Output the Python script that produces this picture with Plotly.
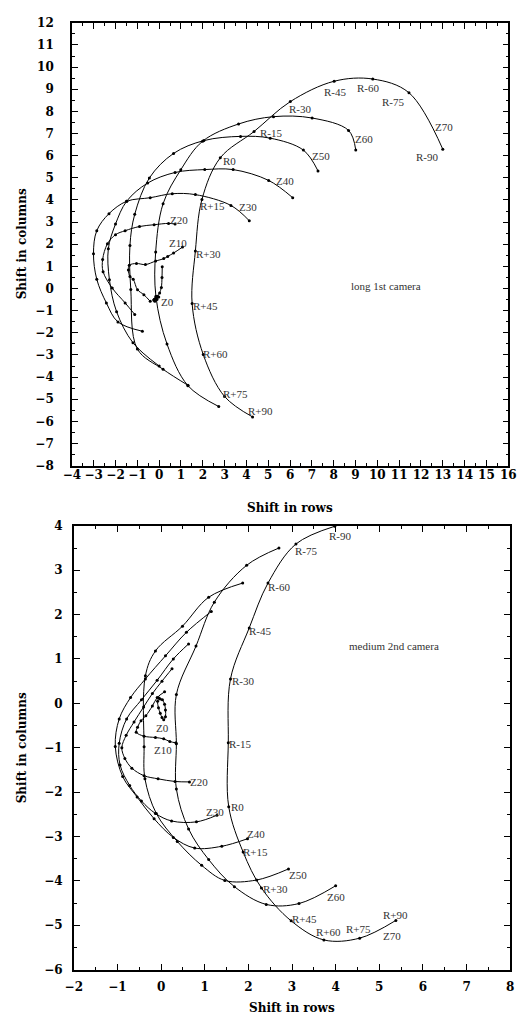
import plotly.graph_objects as go

# ---------------- long 1st camera (top panel) ----------------
top_z70_x = [13.0, 11.45, 9.79, 8.02, 6.01, 4.35, 2.80, 1.96, 1.66, 1.51, 2.02, 3.0, 4.28]
top_z70_y = [6.29, 8.84, 9.46, 9.36, 8.44, 7.09, 5.90, 4.02, 1.69, -0.68, -2.98, -4.88, -5.80]
top_z60_x = [9.01, 8.68, 7.01, 5.24, 3.64, 1.99, 0.99, 0.18, -0.16, -0.15, 0.36, 1.32, 2.73]
top_z60_y = [6.25, 7.14, 7.70, 7.76, 7.43, 6.65, 5.36, 3.83, 1.65, -0.35, -2.51, -4.39, -5.33]
top_z50_x = [7.28, 6.61, 5.09, 3.73, 2.05, 0.66, -0.45, -1.12, -1.34, -1.30, -1.0, 0.18, 1.32]
top_z50_y = [5.31, 6.25, 6.79, 6.87, 6.68, 6.10, 4.99, 3.35, 1.94, -0.05, -2.73, -3.65, -4.37]
top_z40_x = [6.12, 5.02, 3.39, 2.09, 0.73, -0.53, -1.49, -2.0, -2.33, -2.28, -1.95, -1.2, 0.0]
top_z40_y = [4.10, 4.88, 5.37, 5.37, 5.24, 4.76, 3.94, 2.91, 1.80, 0.40, -1.05, -2.45, -3.50]
top_z30_x = [4.13, 3.29, 1.66, 0.60, -0.41, -1.49, -2.30, -2.86, -3.01, -2.86, -2.42, -1.89, -0.77]
top_z30_y = [3.06, 3.75, 4.24, 4.28, 4.10, 3.94, 3.38, 2.61, 1.57, 0.42, -0.65, -1.51, -1.93]
top_z20_x = [0.73, 0.43, -0.23, -0.90, -1.56, -2.0, -2.37, -2.59, -2.57, -2.15, -1.56, -1.12]
top_z20_y = [2.91, 2.94, 2.88, 2.80, 2.61, 2.43, 2.02, 1.31, 0.76, 0.02, -0.65, -1.17]
top_z10_x = [1.07, 0.66, 0.39, 0.21, -0.16, -0.63, -1.04, -1.37, -1.41, -1.34, -1.19, -0.99, -0.70, -0.41]
top_z10_y = [1.87, 1.60, 1.45, 1.35, 1.24, 1.08, 1.13, 1.05, 0.83, 0.54, 0.42, -0.06, -0.28, -0.58]
top_z0_x = [0.14, 0.13, 0.10, 0.02, -0.08, -0.18, -0.25, -0.20, -0.10, -0.02, -0.12, -0.22]
top_z0_y = [0.98, 0.50, 0.05, -0.20, -0.35, -0.45, -0.52, -0.58, -0.50, -0.38, -0.40, -0.48]

top_label_text = ["R-90", "R-75", "R-60", "R-45", "R-30", "R-15", "R0", "R+15", "R+30", "R+45",
                  "R+60", "R+75", "R+90", "Z70", "Z60", "Z50", "Z40", "Z30", "Z20", "Z10", "Z0"]
top_label_x = [12.31, 10.74, 9.6, 8.09, 6.5, 5.17, 3.24, 2.43, 2.27, 2.13,
               2.58, 3.51, 4.65, 13.07, 9.41, 7.41, 5.76, 4.08, 0.91, 0.88, 0.36]
top_label_y = [5.93, 8.43, 9.06, 8.87, 8.1, 7.02, 5.77, 3.72, 1.54, -0.77,
               -2.95, -4.78, -5.55, 7.31, 6.74, 5.98, 4.84, 3.68, 3.1, 2.06, -0.6]

# ---------------- medium 2nd camera (bottom panel) ----------------
bot_z70_x = [3.98, 3.09, 2.45, 2.02, 1.59, 1.54, 1.55, 1.88, 2.30, 2.98, 3.73, 4.55, 5.38]
bot_z70_y = [3.99, 3.59, 2.71, 1.70, 0.55, -0.89, -2.33, -3.35, -4.16, -4.90, -5.33, -5.29, -4.89]
bot_z60_x = [2.70, 1.96, 1.22, 0.80, 0.35, 0.35, 0.35, 0.63, 1.09, 1.68, 2.41, 3.16, 4.0]
bot_z60_y = [3.50, 3.11, 2.28, 1.29, 0.20, -0.91, -1.93, -2.83, -3.52, -4.13, -4.53, -4.51, -4.11]
bot_z50_x = [1.87, 1.09, 0.49, -0.13, -0.36, -0.39, -0.37, -0.11, 0.37, 0.93, 1.46, 2.19, 2.92]
bot_z50_y = [2.71, 2.39, 1.74, 1.18, 0.62, -0.98, -1.70, -2.48, -3.11, -3.65, -3.99, -3.98, -3.73]
bot_z40_x = [1.15, 0.58, 0.10, -0.36, -0.70, -0.96, -1.05, -0.88, -0.55, -0.16, 0.28, 0.77, 1.39, 1.98]
bot_z40_y = [2.07, 1.60, 1.07, 0.55, 0.13, -0.35, -0.97, -1.65, -2.11, -2.60, -3.02, -3.26, -3.22, -3.05]
bot_z30_x = [0.63, 0.28, -0.09, -0.45, -0.79, -0.96, -0.94, -0.72, -0.45, -0.13, 0.24, 0.81, 1.28]
bot_z30_y = [1.34, 1.00, 0.52, 0.08, -0.35, -0.90, -1.39, -1.85, -2.20, -2.48, -2.65, -2.67, -2.52]
bot_z20_x = [0.25, 0.02, -0.20, -0.40, -0.62, -0.80, -0.90, -0.83, -0.67, -0.39, -0.07, 0.32, 0.65]
bot_z20_y = [0.78, 0.50, 0.22, -0.08, -0.42, -0.72, -1.00, -1.24, -1.46, -1.63, -1.70, -1.76, -1.77]
bot_z10_x = [0.08, -0.09, -0.20, -0.35, -0.46, -0.54, -0.57, -0.39, -0.13, 0.06, 0.20, 0.34]
bot_z10_y = [0.26, 0.13, -0.06, -0.28, -0.39, -0.54, -0.65, -0.74, -0.77, -0.80, -0.86, -0.89]
bot_z0_x = [-0.05, -0.08, -0.06, -0.02, 0.02, 0.06, 0.10, 0.10, 0.08, 0.03, -0.02]
bot_z0_y = [0.12, 0.05, -0.10, -0.22, -0.32, -0.37, -0.30, -0.15, -0.02, 0.08, 0.10]

bot_label_text = ["R-90", "R-75", "R-60", "R-45", "R-30", "R-15", "R0", "R+15", "R+30", "R+45",
                  "R+60", "R+75", "R+90", "Z70", "Z60", "Z50", "Z40", "Z30", "Z20", "Z10", "Z0"]
bot_label_x = [4.11, 3.33, 2.72, 2.28, 1.89, 1.83, 1.76, 2.17, 2.63, 3.29,
               3.83, 4.52, 5.37, 5.28, 4.0, 3.14, 2.17, 1.23, 0.86, 0.04, 0.03]
bot_label_y = [3.78, 3.44, 2.62, 1.62, 0.51, -0.92, -2.33, -3.34, -4.18, -4.85,
               -5.16, -5.09, -4.76, -5.25, -4.36, -3.87, -2.95, -2.45, -1.77, -1.05, -0.55]

top_curves = [(top_z70_x, top_z70_y), (top_z60_x, top_z60_y), (top_z50_x, top_z50_y),
              (top_z40_x, top_z40_y), (top_z30_x, top_z30_y), (top_z20_x, top_z20_y),
              (top_z10_x, top_z10_y), (top_z0_x, top_z0_y)]
bot_curves = [(bot_z70_x, bot_z70_y), (bot_z60_x, bot_z60_y), (bot_z50_x, bot_z50_y),
              (bot_z40_x, bot_z40_y), (bot_z30_x, bot_z30_y), (bot_z20_x, bot_z20_y),
              (bot_z10_x, bot_z10_y), (bot_z0_x, bot_z0_y)]

fig = go.Figure()

def add_curves(curves, xa, ya):
    for cx, cy in curves:
        fig.add_trace(go.Scatter(
            x=cx, y=cy, xaxis=xa, yaxis=ya, mode="lines+markers",
            line=dict(color="black", width=1, shape="spline", smoothing=1.0),
            marker=dict(color="black", size=3), showlegend=False, hoverinfo="skip"))

add_curves(top_curves, "x", "y")
add_curves(bot_curves, "x2", "y2")

label_font = dict(family="Liberation Serif", size=11, color="#333333")
annotations = []
for t, lx, ly in zip(top_label_text, top_label_x, top_label_y):
    annotations.append(dict(x=lx, y=ly, xref="x", yref="y", text=t, showarrow=False,
                            font=label_font, xanchor="center", yanchor="middle"))
for t, lx, ly in zip(bot_label_text, bot_label_x, bot_label_y):
    annotations.append(dict(x=lx, y=ly, xref="x2", yref="y2", text=t, showarrow=False,
                            font=label_font, xanchor="center", yanchor="middle"))
annotations.append(dict(x=10.4, y=0.1, xref="x", yref="y", text="long 1st camera",
                        showarrow=False, font=label_font))
annotations.append(dict(x=5.33, y=1.29, xref="x2", yref="y2", text="medium 2nd camera",
                        showarrow=False, font=label_font))

W, H = 524, 1025
title_font = dict(family="DejaVu Serif", size=12, color="black", weight="bold")
# axis titles
annotations += [
    dict(x=290 / W, y=1 - 508 / H, xref="paper", yref="paper", text="Shift in rows",
         showarrow=False, font=title_font, xanchor="center", yanchor="middle"),
    dict(x=292 / W, y=1 - 1015 / H, xref="paper", yref="paper", text="Shift in rows",
         showarrow=False, font=title_font, xanchor="center", yanchor="middle"),
    dict(x=13 / W, y=1 - 240 / H, xref="paper", yref="paper", text="Shift in columns",
         showarrow=False, font=title_font, textangle=-90, xanchor="center", yanchor="middle"),
    dict(x=13 / W, y=1 - 751 / H, xref="paper", yref="paper", text="Shift in columns",
         showarrow=False, font=title_font, textangle=-90, xanchor="center", yanchor="middle"),
]

tick_font = dict(family="DejaVu Serif", size=12, color="black", weight="bold")

def axis(rng, dom, anchor, standoff):
    return dict(range=rng, domain=dom, anchor=anchor, dtick=1, tick0=0,
                showgrid=False, zeroline=False, showline=True, linecolor="black",
                linewidth=1.5, mirror="allticks", ticks="inside", ticklen=6,
                tickwidth=1, tickcolor="black", tickfont=tick_font,
                ticklabelstandoff=standoff,
                minor=dict(dtick=0.5, tick0=0, ticks="inside", ticklen=3,
                           tickwidth=1, tickcolor="black", showgrid=False))

fig.update_layout(
    width=W, height=H, margin=dict(l=0, r=0, t=0, b=0),
    plot_bgcolor="white", paper_bgcolor="white",
    xaxis=axis([-4, 16], [65 / W, 516 / W], "y", -3),
    yaxis=axis([-8, 12], [1 - 465 / H, 1 - 16 / H], "x", 14),
    xaxis2=axis([-2, 8], [67 / W, 518 / W], "y2", 5),
    yaxis2=axis([-6, 4], [1 - 976 / H, 1 - 526 / H], "x2", 7),
    annotations=annotations,
)

fig.write_html("out.html")
